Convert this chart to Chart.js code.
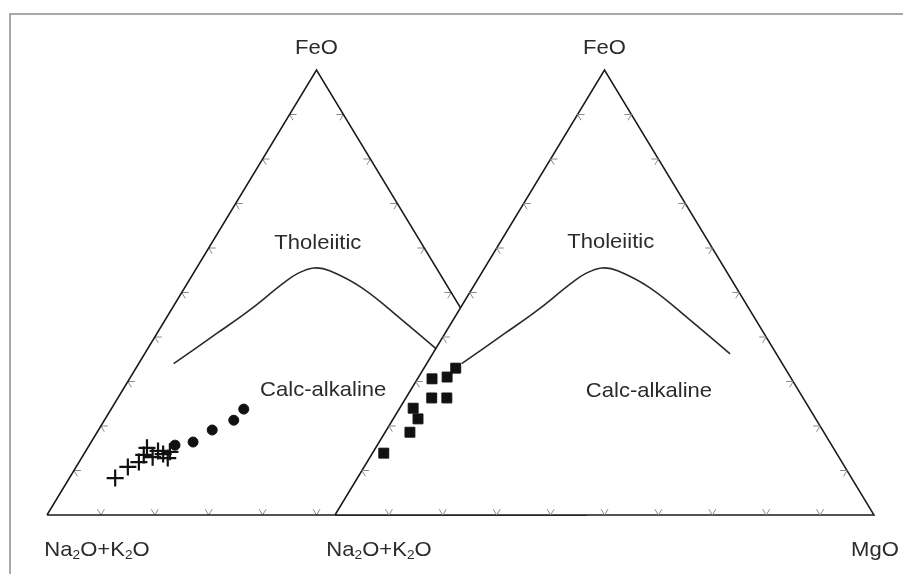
<!DOCTYPE html>
<html lang="en">
<head>
<meta charset="UTF-8">
<title>AFM diagram</title>
<style>
  body { margin: 0; background: #fff; }
  #wrap { width: 903px; height: 574px; }
</style>
</head>
<body>
<div id="wrap"><canvas id="afm" width="903" height="574"></canvas></div>
<script src="https://cdn.jsdelivr.net/npm/chart.js"></script>
<script>
// ternary values (Na2O+K2O, FeO, MgO)
const crossAlk = [83.2, 79.6, 77.0, 75.3, 73.9, 73.9, 72.2, 71.6, 71.2, 70.1];
const crossFeo = [8.3, 10.8, 11.9, 13.5, 15.1, 13.0, 14.4, 13.7, 12.8, 14.2];
const crossMgo = [8.5, 9.6, 11.1, 11.2, 11.0, 13.1, 13.4, 14.7, 16.0, 15.7];

const dotAlk = [68.4, 64.7, 59.8, 54.7, 51.6];
const dotFeo = [15.7, 16.4, 19.1, 21.3, 23.8];
const dotMgo = [15.9, 18.9, 21.1, 24.0, 24.6];

const squareAlk = [61.1, 66.7, 63.7, 68.9, 66.1, 73.5, 73.8, 76.8, 84.0];
const squareFeo = [33.0, 30.6, 31.0, 26.3, 26.3, 24.0, 21.6, 18.6, 13.9];
const squareMgo = [5.9, 2.7, 5.3, 4.8, 7.6, 2.5, 4.6, 4.6, 2.1];

// tholeiitic / calc-alkaline dividing line
const lineAlk = [59.5, 48.1, 39.3, 30.1, 26.3, 22.7, 20.1, 16.0, 12.2, 8.6];
const lineFeo = [34.0, 40.8, 46.1, 52.1, 54.3, 55.5, 54.9, 51.0, 43.8, 36.2];
const lineMgo = [6.5, 11.1, 14.6, 17.8, 19.4, 21.8, 25.0, 33.0, 44.0, 55.2];

const tickValues = [10, 20, 30, 40, 50, 60, 70, 80, 90];

// second triangle is shifted right by this many base widths
const SHIFT = 288 / 539;
const TICK = 1.3;
const INK = '#1a1a1a';
const TEXT = '#2b2b2b';
const FONT = '21px "Liberation Sans", Arial, sans-serif';

function tern(a, f, m, off) {
  const s = a + f + m;
  return { x: off + (m + f / 2) / s, y: f / s };
}

function pts(alk, feo, mgo, off) {
  return alk.map((a, i) => tern(a, feo[i], mgo[i], off));
}

function outline(off) {
  return [tern(100, 0, 0, off), tern(0, 100, 0, off), tern(0, 0, 100, off), tern(100, 0, 0, off)];
}

function tickMarks(off) {
  const out = [];
  const gap = { x: null, y: null };
  tickValues.forEach(t => {
    // base
    out.push(tern(100 - t - TICK, TICK, t, off), tern(100 - t, 0, t, off), tern(100 - t, TICK, t - TICK, off), gap);
    // left side
    out.push(tern(100 - t - TICK, t, TICK, off), tern(100 - t, t, 0, off), tern(100 - t, t - TICK, TICK, off), gap);
    // right side
    out.push(tern(TICK, t, 100 - t - TICK, off), tern(0, t, 100 - t, off), tern(TICK, t - TICK, 100 - t, off), gap);
  });
  return out;
}

const lineStyle = { showLine: true, pointRadius: 0, borderColor: INK, borderWidth: 1.5, fill: false };

const datasets = [
  // left triangle (drawn first, partly hidden by the right one)
  { ...lineStyle, data: tickMarks(0), borderColor: '#8a8a8a', borderWidth: 1, order: 9 },
  { ...lineStyle, data: outline(0), order: 8 },
  { ...lineStyle, data: pts(lineAlk, lineFeo, lineMgo, 0), tension: 0.4, borderColor: '#2a2a2a', borderWidth: 1.6, order: 7 },
  { data: pts(crossAlk, crossFeo, crossMgo, 0), pointStyle: 'cross', pointRadius: 8.5, borderColor: '#111', borderWidth: 2.2, order: 6 },
  { data: pts(dotAlk, dotFeo, dotMgo, 0), pointStyle: 'circle', pointRadius: 5, backgroundColor: '#111', borderColor: '#111', borderWidth: 1, order: 5 },
  // right triangle, white inside
  { ...lineStyle, data: outline(SHIFT), fill: 'shape', backgroundColor: '#ffffff', order: 4 },
  { ...lineStyle, data: tickMarks(SHIFT), borderColor: '#8a8a8a', borderWidth: 1, order: 3 },
  { ...lineStyle, data: pts(lineAlk, lineFeo, lineMgo, SHIFT), tension: 0.4, borderColor: '#2a2a2a', borderWidth: 1.6, order: 2 },
  { data: pts(squareAlk, squareFeo, squareMgo, SHIFT), pointStyle: 'rect', pointRadius: 7, backgroundColor: '#111', borderColor: '#111', borderWidth: 1, order: 1 }
];

function drawRich(ctx, parts, cx, cy) {
  const big = FONT, small = '13px "Liberation Sans", Arial, sans-serif';
  let w = 0;
  parts.forEach(p => { ctx.font = p.sub ? small : big; w += ctx.measureText(p.t).width; });
  ctx.save();
  ctx.translate(cx, cy);
  ctx.scale(1.05, 1);
  let x = -w / 2;
  ctx.textBaseline = 'middle';
  ctx.textAlign = 'left';
  parts.forEach(p => {
    ctx.font = p.sub ? small : big;
    ctx.fillText(p.t, x, p.sub ? 5 : 0);
    x += ctx.measureText(p.t).width;
  });
  ctx.restore();
}

const labels = {
  id: 'labels',
  beforeDraw(chart) {
    const ctx = chart.ctx;
    ctx.save();
    ctx.strokeStyle = '#a8a8a8';
    ctx.lineWidth = 2;
    ctx.beginPath();
    ctx.moveTo(10, 574);
    ctx.lineTo(10, 14);
    ctx.lineTo(903, 14);
    ctx.stroke();
    ctx.restore();
  },
  afterDatasetsDraw(chart) {
    const ctx = chart.ctx;
    const sx = chart.scales.x, sy = chart.scales.y;
    const px = p => ({ x: sx.getPixelForValue(p.x), y: sy.getPixelForValue(p.y) });
    ctx.save();
    ctx.fillStyle = TEXT;
    const alk = [{ t: 'Na' }, { t: '2', sub: true }, { t: 'O+K' }, { t: '2', sub: true }, { t: 'O' }];
    [0, SHIFT].forEach((off, k) => {
      const top = px(tern(0, 100, 0, off));
      drawRich(ctx, [{ t: 'FeO' }], top.x, top.y - 22);
      const left = px(tern(100, 0, 0, off));
      drawRich(ctx, alk, left.x + (k ? 44 : 50), left.y + 35);
    });
    const mg = px(tern(0, 0, 100, SHIFT));
    drawRich(ctx, [{ t: 'MgO' }], mg.x + 1, mg.y + 35);
    [
      ['Tholeiitic', tern(19.2, 61.1, 19.7, 0)],
      ['Tholeiitic', tern(18.2, 61.3, 20.5, SHIFT)],
      ['Calc-alkaline', tern(34.7, 28.1, 37.2, 0)],
      ['Calc-alkaline', tern(27.8, 27.9, 44.3, SHIFT)]
    ].forEach(([t, p]) => {
      const q = px(p);
      drawRich(ctx, [{ t }], q.x, q.y);
    });
    ctx.restore();
  }
};

new Chart(document.getElementById('afm'), {
  type: 'scatter',
  data: { datasets },
  options: {
    responsive: false,
    animation: false,
    events: [],
    layout: { padding: 0, autoPadding: false },
    plugins: { legend: { display: false }, tooltip: { enabled: false } },
    scales: {
      x: { type: 'linear', display: false, min: -47 / 539, max: (903 - 47) / 539 },
      y: { type: 'linear', display: false, min: (515 - 574) / 445, max: 515 / 445 }
    }
  },
  plugins: [labels]
});
</script>
</body>
</html>
